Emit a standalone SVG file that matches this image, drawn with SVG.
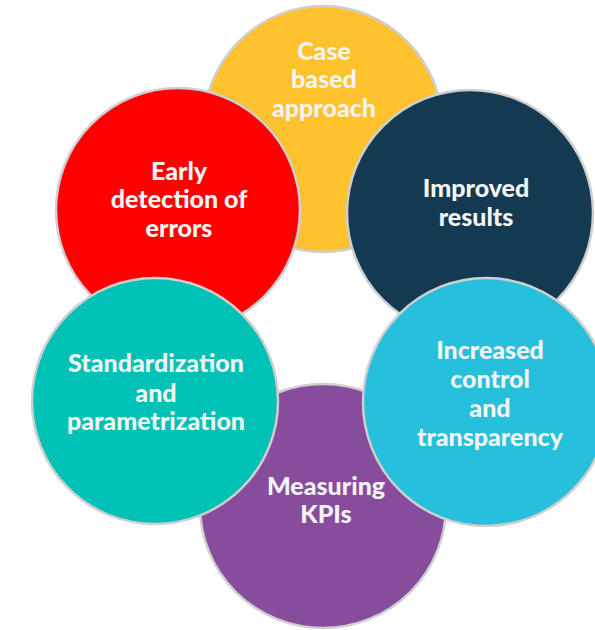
<svg xmlns="http://www.w3.org/2000/svg" width="595" height="630" viewBox="0 0 595 630">
<style>
.c{stroke:#cfcfcf;stroke-width:2.5}
.t{font-family:Lato,"Liberation Sans",sans-serif;font-weight:900;font-size:25px;fill:#f4f4f4;text-anchor:middle}
</style>
<rect width="595" height="630" fill="#ffffff"/>
<g id="case">
<ellipse class="c" cx="323" cy="129" rx="120" ry="123" fill="#fdc22d"/>
<text class="t"><tspan x="324" y="60">Case</tspan><tspan x="324" y="88">based</tspan><tspan x="324" y="117">approach</tspan></text>
</g>
<g id="early">
<ellipse class="c" cx="178" cy="210" rx="122" ry="122" fill="#ff0000"/>
<text class="t"><tspan x="179" y="180">Early</tspan><tspan x="179" y="208">detection of</tspan><tspan x="179" y="237">errors</tspan></text>
</g>
<g id="improved">
<ellipse class="c" cx="470" cy="213" rx="123" ry="123" fill="#143a52"/>
<text class="t"><tspan x="476" y="197">Improved</tspan><tspan x="476" y="226">results</tspan></text>
</g>
<g id="kpis">
<ellipse class="c" cx="323" cy="506" rx="123" ry="122" fill="#884c9c"/>
<text class="t"><tspan x="326" y="495">Measuring</tspan><tspan x="326" y="523">KPIs</tspan></text>
</g>
<g id="standard">
<ellipse class="c" cx="155" cy="401" rx="123" ry="123" fill="#00c1b5"/>
<text class="t"><tspan x="156" y="372">Standardization</tspan><tspan x="156" y="402">and</tspan><tspan x="156" y="430">parametrization</tspan></text>
</g>
<g id="control">
<ellipse class="c" cx="486" cy="402" rx="123" ry="124" fill="#27c0dc"/>
<text class="t"><tspan x="490" y="359">Increased</tspan><tspan x="490" y="388">control</tspan><tspan x="490" y="417">and</tspan><tspan x="490" y="446">transparency</tspan></text>
</g>
<g id="connectors"/>
</svg>
